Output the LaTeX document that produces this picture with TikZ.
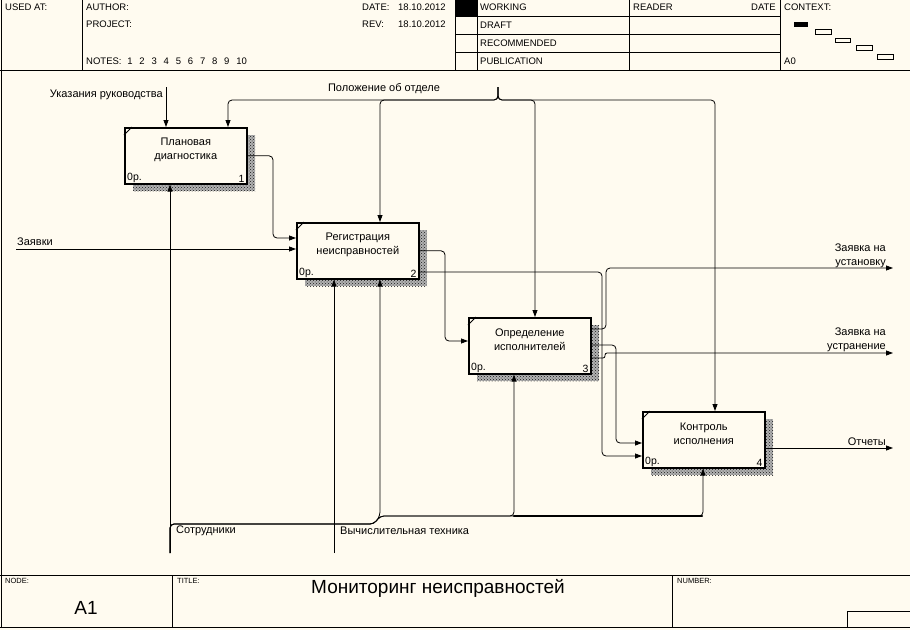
\documentclass[tikz,border=0pt]{standalone}
\usepackage{fontspec}
\setmainfont{Liberation Sans}
\usetikzlibrary{arrows.meta,calc,patterns}
\definecolor{idefbg}{HTML}{FFFBF0}

\tikzset{
  actbox/.style={draw, line width=1.6pt, fill=idefbg, minimum width=122pt,
    minimum height=56pt, inner sep=0pt, anchor=north west},
  boxname/.style={font=\fontsize{11}{13.5}\selectfont, align=center, inner sep=0pt},
  boxcorner/.style={font=\fontsize{10.5}{12}\selectfont, inner xsep=3pt, inner ysep=1.8pt},
  hatchshadow/.style={preaction={fill=black!30}, pattern=crosshatch dots, pattern color=black!90},
  flow/.style={-{Triangle[length=7pt,width=5pt]}, line width=0.8pt, rounded corners=4pt},
  busline/.style={line width=2.4pt, line cap=round},
  lbl/.style={font=\fontsize{11}{14.5}\selectfont, inner sep=0pt},
  hdr/.style={font=\fontsize{9.5}{11}\selectfont, inner sep=0pt, anchor=west},
  tiny/.style={font=\fontsize{7.5}{9}\selectfont, inner sep=0pt, anchor=west},
  frameline/.style={line width=1pt},
}

\begin{document}
\begin{tikzpicture}[x=1pt,y=-1pt]
  \useasboundingbox (0,0) rectangle (910,630);
  \fill[idefbg] (0,0) rectangle (910,630);

  % frame, header and footer
  \draw[frameline] (1,0) -- (1,628);
  \draw[frameline] (0,70) -- (910,70);
  \draw[frameline] (0,575) -- (910,575);
  \draw[frameline] (0,627) -- (910,627);
  \foreach \x in {82,455,477,629,780}
    \draw[frameline] (\x,0) -- (\x,70);
  \foreach \y in {16,34,52}
    \draw[frameline] (455,\y) -- (780,\y);
  \fill (455,0) rectangle (477,16);
  \draw[frameline] (172,575) -- (172,627);
  \draw[frameline] (672,575) -- (672,627);
  \draw[frameline] (847,611) rectangle (910,627);

  % context strip
  \fill (794,22) rectangle (808,27);
  \draw[line width=0.8pt] (815,29) rectangle (831,34);
  \draw[line width=0.8pt] (835,38) rectangle (850,42);
  \draw[line width=0.8pt] (856,45) rectangle (872,50);
  \draw[line width=0.8pt] (877,54) rectangle (893,59);

  \node[hdr] (usedat) at (5,7) {USED AT:};
  \node[hdr] (author) at (86,7) {AUTHOR:};
  \node[hdr] (project) at (86,24) {PROJECT:};
  \node[hdr] (notes) at (86,61) {NOTES:\hspace{0.6em}1\hspace{0.72em}2\hspace{0.72em}3\hspace{0.72em}4\hspace{0.72em}5\hspace{0.72em}6\hspace{0.72em}7\hspace{0.72em}8\hspace{0.72em}9\hspace{0.72em}10};
  \node[hdr] (date) at (362,7) {DATE:};
  \node[hdr] (dateval) at (398,7) {18.10.2012};
  \node[hdr] (rev) at (362,24) {REV:};
  \node[hdr] (revval) at (398,24) {18.10.2012};
  \node[hdr] (working) at (480,7) {WORKING};
  \node[hdr] (draft) at (480,25) {DRAFT};
  \node[hdr] (recom) at (480,43) {RECOMMENDED};
  \node[hdr] (public) at (480,61) {PUBLICATION};
  \node[hdr] (reader) at (633,7) {READER};
  \node[hdr, anchor=east] (rdate) at (776,7) {DATE};
  \node[hdr] (context) at (784,7) {CONTEXT:};
  \node[hdr] (ctxnode) at (784,61) {A0};

  \node[tiny] (nodelbl) at (5,581) {NODE:};
  \node[tiny] (titlelbl) at (177,581) {TITLE:};
  \node[tiny] (numberlbl) at (677,581) {NUMBER:};
  \node[font=\fontsize{19}{21}\selectfont, inner sep=0pt] (nodeval) at (86,608) {A1};
  \node[font=\fontsize{19}{21}\selectfont, inner sep=0pt] (title) at (438,588) {Мониторинг неисправностей};

  % activity boxes
  \foreach \n/\x/\y/\txt/\num in {%
    b1/124/127/{Плановая\\диагностика}/1,
    b2/296/222/{Регистрация\\неисправностей}/2,
    b3/468/317/{Определение\\исполнителей}/3,
    b4/642/411/{Контроль\\исполнения}/4}
  {
    \fill[hatchshadow] (\x+9,\y+8) rectangle (\x+131,\y+64);
    \node[actbox] (\n) at (\x,\y) {};
    \draw[line width=0.8pt] (\x,\y+8) -- (\x+8,\y);
    \node[boxname] (\n-name) at ($(\n.center)+(0,-6)$) {\txt};
    \node[boxcorner, anchor=south west] (\n-cost) at (\n.south west) {0р.};
    \node[boxcorner, anchor=south east] (\n-num) at (\n.south east) {\num};
  }

  % controls
  \coordinate (c-ukaz) at (166,87);
  \draw[flow] (c-ukaz) -- (c-ukaz |- b1.north);
  \node[lbl, anchor=east] (l-ukaz) at (163,95) {Указания руководства};

  \coordinate (c-pol) at (498,87);
  \foreach \bx/\bn in {228/b1,380/b2,535/b3,715/b4}
    \draw[flow] (c-pol) -- (498,100) -| (\bx,0 |- \bn.north);
  \node[lbl] (l-pol) at (384,89) {Положение об отделе};

  % inputs
  \coordinate (i-zayav) at (16,249);
  \draw[flow] (i-zayav) -- (i-zayav -| b2.west);
  \node[lbl, anchor=west] (l-zayav) at (17,242) {Заявки};

  % links between boxes
  \draw[flow] (b1.east) -| (273,238) -- (b2.west |- 0,238);
  \draw[flow] (b2.east) -| (445,341) -- (b3.west |- 0,341);
  \draw[flow] (b2.east |- 0,272) -| (602,456) -- (b4.west |- 0,456);
  \draw[flow] (b3.east |- 0,345) -| (616,443) -- (b4.west |- 0,443);

  % outputs
  \coordinate (o-ust) at (893,268);
  \coordinate (o-ustr) at (893,353);
  \coordinate (o-otch) at (893,448);
  \draw[flow] (b3.east |- 0,329) -| (606,268) -- (o-ust);
  \draw[flow, rounded corners=2pt] (b3.east |- 0,358) -| (605,353) -- (o-ustr);
  \draw[flow] (b4.east |- 0,448) -- (o-otch);
  \node[lbl, anchor=south east, align=right] (l-ust) at (886,268) {Заявка на\\установку};
  \node[lbl, anchor=south east, align=right] (l-ustr) at (886,352) {Заявка на\\устранение};
  \node[lbl, anchor=south east] (l-otch) at (886,446) {Отчеты};

  % mechanisms
  \coordinate (m-sotr) at (170,553);
  \coordinate (m-vych) at (334,553);
  \draw[flow] (m-sotr) -- (m-sotr |- b1.south);
  \draw[flow] (m-sotr) |- (374,524) -- (380,516) -- (380,0 |- b2.south);
  \draw[flow] (m-sotr) |- (374,524) -- (380,516) -| (514,0 |- b3.south);
  \draw[flow] (m-sotr) |- (374,524) -- (380,516) -| (703,0 |- b4.south);
  \draw[busline] (514,516) -- (702,516);
  \draw[flow] (m-vych) -- (m-vych |- b2.south);
  \node[lbl, anchor=west] (l-sotr) at (176,531) {Сотрудники};
  \node[lbl, anchor=west] (l-vych) at (340,531) {Вычислительная техника};
\end{tikzpicture}
\end{document}
